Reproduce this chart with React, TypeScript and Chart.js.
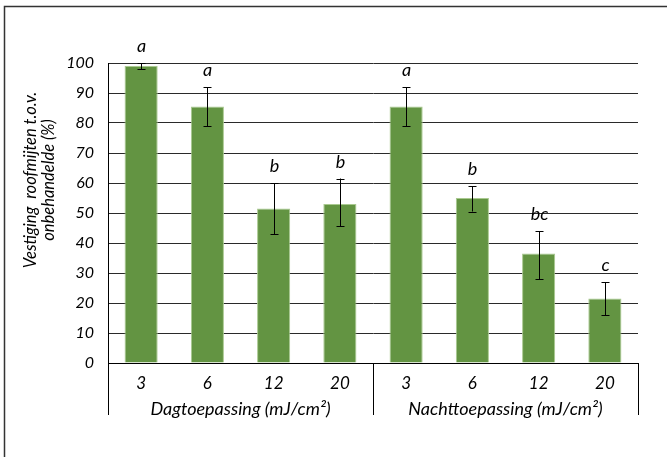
import React, { useEffect, useRef } from 'react';
import { Chart, registerables } from 'chart.js';
Chart.register(...registerables);

const doses = ['3', '6', '12', '20', '3', '6', '12', '20'];
const groups = ['Dagtoepassing (mJ/cm²)', 'Nachttoepassing (mJ/cm²)'];
const values = [99, 85.5, 51.5, 53, 85.5, 55, 36.5, 21.5];
const errLow = [98, 79, 43, 45.5, 79, 50.5, 28, 16];
const errHigh = [100, 92, 60, 61.5, 92, 59, 44, 27];
const letters = ['a', 'a', 'b', 'b', 'a', 'b', 'bc', 'c'];
const yTitle = ['Vestiging  roofmijten t.o.v.', 'onbehandelde (%)'];
const yMin = 0;
const yMax = 100;
const yStep = 10;

const FONT = 'Lato, "Open Sans", sans-serif';

const extras = {
  id: 'extras',
  beforeDraw(chart: any) {
    const ctx = chart.ctx;
    ctx.save();
    ctx.fillStyle = '#fff';
    ctx.fillRect(0, 0, chart.width, chart.height);
    ctx.strokeStyle = '#333';
    ctx.lineWidth = 1.5;
    ctx.beginPath();
    ctx.moveTo(4.5, chart.height);
    ctx.lineTo(4.5, 6.5);
    ctx.lineTo(chart.width, 6.5);
    ctx.stroke();
    ctx.restore();
  },
  afterDatasetsDraw(chart: any) {
    const ctx = chart.ctx;
    const xs = chart.scales.x;
    const ys = chart.scales.y;
    const area = chart.chartArea;
    ctx.save();
    // error bars
    ctx.strokeStyle = '#000';
    ctx.lineWidth = 1;
    values.forEach((v, i) => {
      const x = Math.round(xs.getPixelForValue(i)) + 0.5;
      const yl = ys.getPixelForValue(errLow[i]);
      const yh = ys.getPixelForValue(errHigh[i]);
      ctx.beginPath();
      ctx.moveTo(x, yl);
      ctx.lineTo(x, yh);
      ctx.moveTo(x - 4, Math.round(yl) + 0.5);
      ctx.lineTo(x + 4, Math.round(yl) + 0.5);
      ctx.moveTo(x - 4, Math.round(yh) + 0.5);
      ctx.lineTo(x + 4, Math.round(yh) + 0.5);
      ctx.stroke();
      ctx.fillStyle = '#000';
      ctx.font = `italic 18px ${FONT}`;
      ctx.textAlign = 'center';
      ctx.textBaseline = 'alphabetic';
      ctx.fillText(letters[i], x, yh - 11);
    });
    // category dividers
    const n = doses.length;
    const half = n / 2;
    const divX = [
      area.left,
      (xs.getPixelForValue(half - 1) + xs.getPixelForValue(half)) / 2,
      area.right,
    ];
    ctx.strokeStyle = '#000';
    ctx.beginPath();
    divX.forEach((dx) => {
      const px = Math.round(dx) + 0.5;
      ctx.moveTo(px, area.bottom);
      ctx.lineTo(px, area.bottom + 52);
    });
    ctx.stroke();
    // group labels
    ctx.font = `italic 18px ${FONT}`;
    ctx.fillStyle = '#000';
    ctx.textAlign = 'center';
    ctx.textBaseline = 'middle';
    ctx.fillText(groups[0], (divX[0] + divX[1]) / 2, area.bottom + 46);
    ctx.fillText(groups[1], (divX[1] + divX[2]) / 2, area.bottom + 46);
    // y title
    const cy = 180;
    ctx.font = `italic 16.5px ${FONT}`;
    [31, 49].forEach((tx, k) => {
      ctx.save();
      ctx.translate(tx, cy);
      ctx.rotate(-Math.PI / 2);
      ctx.fillText(yTitle[k], 0, 0);
      ctx.restore();
    });
    ctx.restore();
  },
};

export default function App() {
  const ref = useRef<HTMLCanvasElement>(null);
  useEffect(() => {
    if (!ref.current) return;
    const chart = new Chart(ref.current, {
      type: 'bar',
      data: {
        labels: doses,
        datasets: [
          {
            data: values,
            backgroundColor: '#639442',
            borderColor: '#a9c98f',
            borderWidth: 1,
            barPercentage: 0.5,
            categoryPercentage: 1,
          },
        ],
      },
      options: {
        responsive: false,
        animation: false,
        devicePixelRatio: 1,
        layout: { padding: { left: 0, top: 63, right: 29, bottom: 0 } },
        plugins: { legend: { display: false }, tooltip: { enabled: false } },
        scales: {
          x: {
            grid: { display: false, drawTicks: false },
            border: { color: '#000', width: 1 },
            ticks: {
              color: '#000',
              font: { family: FONT, size: 17, style: 'italic' },
              padding: 10,
              maxRotation: 0,
            },
            afterFit(scale: any) {
              scale.height = 94;
            },
          },
          y: {
            min: yMin,
            max: yMax,
            ticks: {
              stepSize: yStep,
              color: '#000',
              font: { family: FONT, size: 16, style: 'italic' },
              padding: 14,
            },
            grid: { color: '#2a2a2a', drawTicks: false, lineWidth: 1 },
            border: { color: '#000', width: 1 },
            afterFit(scale: any) {
              scale.width = 108;
            },
          },
        },
      },
      plugins: [extras],
    });
    return () => chart.destroy();
  }, []);
  return (
    <div style={{ position: 'fixed', left: 0, top: 0, width: 667, height: 457, background: '#fff' }}>
      <canvas ref={ref} width={667} height={457} style={{ display: 'block' }} />
    </div>
  );
}
